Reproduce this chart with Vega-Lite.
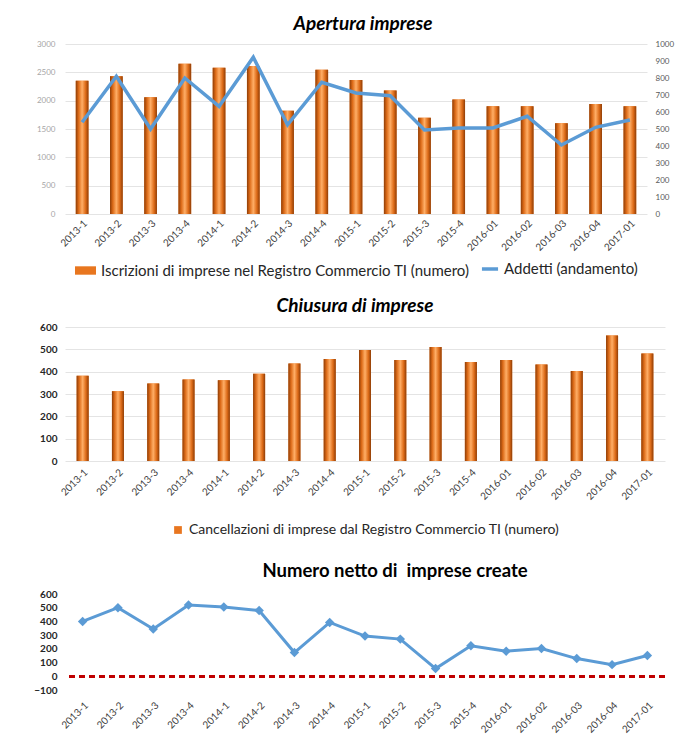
{
  "$schema": "https://vega.github.io/schema/vega-lite/v6.json",
  "background": "white",
  "padding": {"left": 33, "top": 15, "right": 6, "bottom": 4},
  "spacing": 18,
  "config": {
    "font": "Lato",
    "view": {"stroke": null},
    "axis": {"labelFont": "Lato", "ticks": false, "domain": false, "gridColor": "#E4E4E4", "title": null, "labelColor": "#404040", "labelOverlap": false},
    "title": {"font": "Lato", "fontSize": 19, "fontWeight": "bold", "color": "#000000", "anchor": "middle", "offset": 6},
    "legend": {"labelFont": "Lato", "labelFontSize": 15, "labelColor": "#262626", "orient": "bottom", "direction": "horizontal", "title": null, "offset": 6, "labelLimit": 500,
               "layout": {"bottom": {"anchor": "middle", "margin": 10}}}
  },
  "resolve": {"scale": {"color": "independent", "stroke": "independent"}, "legend": {"color": "independent", "stroke": "independent"}},
  "data": {
    "values": [
      {"periodo": "2013-1", "iscrizioni": 2350, "addetti": 540, "cancellazioni": 382, "netto": 400},
      {"periodo": "2013-2", "iscrizioni": 2430, "addetti": 810, "cancellazioni": 312, "netto": 500},
      {"periodo": "2013-3", "iscrizioni": 2060, "addetti": 500, "cancellazioni": 347, "netto": 345},
      {"periodo": "2013-4", "iscrizioni": 2650, "addetti": 800, "cancellazioni": 365, "netto": 520},
      {"periodo": "2014-1", "iscrizioni": 2580, "addetti": 633, "cancellazioni": 362, "netto": 505},
      {"periodo": "2014-2", "iscrizioni": 2610, "addetti": 922, "cancellazioni": 391, "netto": 480},
      {"periodo": "2014-3", "iscrizioni": 1820, "addetti": 525, "cancellazioni": 437, "netto": 173},
      {"periodo": "2014-4", "iscrizioni": 2545, "addetti": 775, "cancellazioni": 457, "netto": 393},
      {"periodo": "2015-1", "iscrizioni": 2365, "addetti": 712, "cancellazioni": 497, "netto": 293},
      {"periodo": "2015-2", "iscrizioni": 2180, "addetti": 696, "cancellazioni": 452, "netto": 271},
      {"periodo": "2015-3", "iscrizioni": 1700, "addetti": 494, "cancellazioni": 510, "netto": 56},
      {"periodo": "2015-4", "iscrizioni": 2020, "addetti": 506, "cancellazioni": 443, "netto": 222},
      {"periodo": "2016-01", "iscrizioni": 1900, "addetti": 506, "cancellazioni": 452, "netto": 183},
      {"periodo": "2016-02", "iscrizioni": 1900, "addetti": 575, "cancellazioni": 432, "netto": 202},
      {"periodo": "2016-03", "iscrizioni": 1600, "addetti": 406, "cancellazioni": 403, "netto": 129},
      {"periodo": "2016-04", "iscrizioni": 1940, "addetti": 510, "cancellazioni": 562, "netto": 85},
      {"periodo": "2017-01", "iscrizioni": 1900, "addetti": 553, "cancellazioni": 481, "netto": 151}
    ]
  },
  "vconcat": [
    {
      "title": {"text": "Apertura imprese", "fontStyle": "italic", "dx": 7},
      "width": 582,
      "height": 170,
      "layer": [
        {
          "mark": {"type": "bar", "width": {"band": 0.37}},
          "encoding": {
            "x": {"field": "periodo", "type": "nominal", "sort": null, "scale": {"paddingInner": 0, "paddingOuter": 0},
                  "axis": {"labelAngle": -45, "labelFontSize": 10, "labelColor": "#404040", "labelPadding": 4, "grid": false}},
            "y": {"field": "iscrizioni", "type": "quantitative", "scale": {"domain": [0, 3000], "nice": false},
                  "axis": {"values": [0, 500, 1000, 1500, 2000, 2500, 3000], "format": "d", "labelOverlap": false, "labelFontSize": 8, "labelColor": "#A6A6A6", "labelPadding": 10}},
            "color": {"datum": "Iscrizioni di imprese nel Registro Commercio TI (numero)", "type": "nominal",
                      "scale": {"range": ["#E8761F"]},
                      "legend": {"symbolType": "M-1,-0.4H1V0.4H-1Z", "symbolSize": 440}}
          }
        },
        {
          "mark": {"type": "bar", "width": {"band": 0.37}, "color": {"gradient": "linear", "x1": 0, "y1": 0, "x2": 1, "y2": 0, "stops": [{"offset": 0, "color": "#8E3D07"}, {"offset": 0.22, "color": "#DC6A17"}, {"offset": 0.5, "color": "#FFAE66"}, {"offset": 0.78, "color": "#DC6A17"}, {"offset": 1, "color": "#8E3D07"}]}},
          "encoding": {
            "x": {"field": "periodo", "type": "nominal", "sort": null},
            "y": {"field": "iscrizioni", "type": "quantitative", "scale": {"domain": [0, 3000], "nice": false}, "axis": null}
          }
        },
        {
          "mark": {"type": "line", "strokeWidth": 3.5},
          "encoding": {
            "x": {"field": "periodo", "type": "nominal", "sort": null},
            "y": {"field": "addetti", "type": "quantitative", "scale": {"domain": [0, 1000], "nice": false},
                  "axis": {"orient": "right", "values": [0, 100, 200, 300, 400, 500, 600, 700, 800, 900, 1000], "format": "d", "labelOverlap": false, "grid": false, "labelFontSize": 8, "labelColor": "#595959", "labelPadding": 8}},
            "stroke": {"datum": "Addetti (andamento)", "type": "nominal", "scale": {"range": ["#5B9BD5"]},
                       "legend": {"symbolType": "stroke", "symbolSize": 260, "symbolStrokeWidth": 3.5}}
          }
        }
      ],
      "resolve": {"scale": {"y": "independent"}}
    },
    {
      "title": {"text": "Chiusura di imprese", "fontStyle": "italic", "dx": -10},
      "width": 600,
      "height": 134,
      "layer": [
        {
          "mark": {"type": "bar", "width": {"band": 0.34}},
          "encoding": {
            "x": {"field": "periodo", "type": "nominal", "sort": null, "scale": {"paddingInner": 0, "paddingOuter": 0},
                  "axis": {"labelAngle": -45, "labelFontSize": 10, "labelColor": "#404040", "labelPadding": 6, "grid": false}},
            "y": {"field": "cancellazioni", "type": "quantitative", "scale": {"domain": [0, 600], "nice": false},
                  "axis": {"values": [0, 100, 200, 300, 400, 500, 600], "format": "d", "labelOverlap": false, "labelFontSize": 10, "labelFontWeight": "bold", "labelColor": "#262626", "labelPadding": 8}},
            "color": {"datum": "Cancellazioni di imprese dal Registro Commercio TI (numero)", "type": "nominal",
                      "scale": {"range": ["#E8761F"]},
                      "legend": {"symbolType": "square", "symbolSize": 60, "offset": 15, "padding": 6, "labelFontSize": 14}}
          }
        },
        {
          "mark": {"type": "bar", "width": {"band": 0.34}, "color": {"gradient": "linear", "x1": 0, "y1": 0, "x2": 1, "y2": 0, "stops": [{"offset": 0, "color": "#8E3D07"}, {"offset": 0.22, "color": "#DC6A17"}, {"offset": 0.5, "color": "#FFAE66"}, {"offset": 0.78, "color": "#DC6A17"}, {"offset": 1, "color": "#8E3D07"}]}},
          "encoding": {
            "x": {"field": "periodo", "type": "nominal", "sort": null},
            "y": {"field": "cancellazioni", "type": "quantitative",
                  "axis": {"values": [0, 100, 200, 300, 400, 500, 600], "format": "d", "labelOverlap": false, "labelFontSize": 10, "labelFontWeight": "bold", "labelColor": "#262626", "labelPadding": 8}}
          }
        }
      ]
    },
    {
      "title": {"text": "Numero netto di\u00a0 imprese create", "fontStyle": "normal", "dx": 30, "offset": 9, "fontSize": 18.5},
      "width": 600,
      "height": 96,
      "layer": [
        {
          "mark": {"type": "rule", "color": "#C00000", "strokeWidth": 2, "strokeDash": [6, 4]},
          "encoding": {"y": {"datum": 0, "type": "quantitative",
                  "axis": {"values": [-100, 0, 100, 200, 300, 400, 500, 600], "format": "d", "labelOverlap": false, "labelFontSize": 10, "labelFontWeight": "bold", "labelColor": "#262626", "labelPadding": 8}}}
        },
        {
          "mark": {"type": "line", "color": "#5B9BD5", "strokeWidth": 3, "point": {"shape": "diamond", "size": 90, "filled": true, "color": "#5B9BD5"}},
          "encoding": {
            "x": {"field": "periodo", "type": "nominal", "sort": null, "scale": {"type": "point", "padding": 0.5},
                  "axis": {"labelAngle": -45, "labelFontSize": 10, "labelColor": "#404040", "labelPadding": 10, "grid": false}},
            "y": {"field": "netto", "type": "quantitative", "scale": {"domain": [-100, 600], "nice": false},
                  "axis": {"values": [-100, 0, 100, 200, 300, 400, 500, 600], "format": "d", "labelOverlap": false, "labelFontSize": 10, "labelFontWeight": "bold", "labelColor": "#262626", "labelPadding": 8}}
          }
        }
      ]
    }
  ]
}
